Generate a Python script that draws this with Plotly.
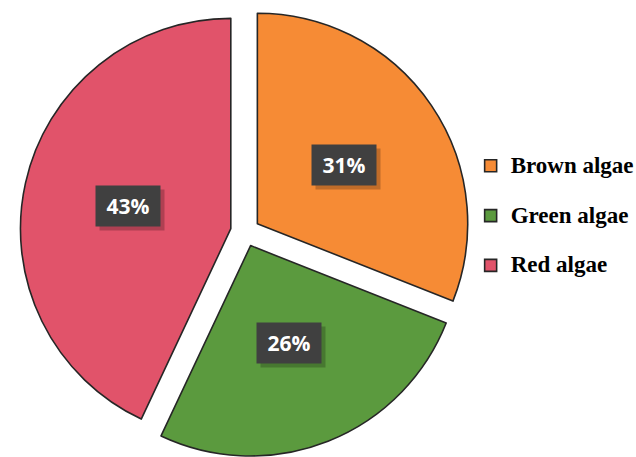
import math
import plotly.graph_objects as go

# ---- data ----
labels = ["Brown algae", "Green algae", "Red algae"]
values = [31, 26, 43]
pct_text = ["31%", "26%", "43%"]
colors = ["#F68B35", "#5B9A3E", "#E1536A"]

W, H = 636, 457
pull = 0.07
dom_x = [0.026, 0.745]
dom_y = [0.0, 0.985]

legend_labels = [
    f"<span style='font-size:23px'><b>{l}</b></span><br> " for l in labels
]

fig = go.Figure()
fig.add_trace(go.Pie(
    labels=legend_labels,
    values=values,
    sort=False,
    direction="clockwise",
    rotation=0,
    pull=[pull] * len(values),
    marker=dict(colors=colors, line=dict(color="#262626", width=1.6)),
    textinfo="none",
    hoverinfo="skip",
    domain=dict(x=dom_x, y=dom_y),
))

# label boxes positioned from the pie geometry and the values
box_w = (dom_x[1] - dom_x[0]) * W
box_h = (dom_y[1] - dom_y[0]) * H
R = min(box_w, box_h) / 2 / (1 + pull)
cx = (dom_x[0] + dom_x[1]) / 2 * W
cy = (1 - (dom_y[0] + dom_y[1]) / 2) * H
total = sum(values)
start = 0.0
annotations = []
for v, t in zip(values, pct_text):
    mid = (start + v / 2) / total * 2 * math.pi
    start += v
    d = R * (pull + 0.50)
    px = cx + d * math.sin(mid)
    py = cy - d * math.cos(mid)
    xp, yp = px / W, 1 - py / H
    common = dict(x=xp, y=yp, xref="paper", yref="paper", showarrow=False,
                  xanchor="center", yanchor="middle",
                  width=64, height=40, borderpad=0, align="center", valign="middle")
    annotations.append(dict(text="&nbsp;", bgcolor="rgba(0,0,0,0.22)",
                            font=dict(family="Open Sans", size=21, color="rgba(0,0,0,0)"),
                            xshift=4, yshift=-4, **common))
    annotations.append(dict(text=f"<b>{t}</b>", bgcolor="#404040",
                            font=dict(family="Open Sans", size=21, color="white"),
                            **common))

fig.update_layout(
    width=W, height=H,
    margin=dict(l=0, r=0, t=0, b=0, autoexpand=False),
    paper_bgcolor="white",
    plot_bgcolor="white",
    annotations=annotations,
    showlegend=True,
    legend=dict(
        x=0.740, y=0.677, xanchor="left", yanchor="top",
        font=dict(family="Liberation Serif", size=18, color="black"),
        valign="top",
        bgcolor="rgba(0,0,0,0)",
        itemclick=False, itemdoubleclick=False,
        traceorder="normal",
    ),
)

fig.write_html("out.html")
